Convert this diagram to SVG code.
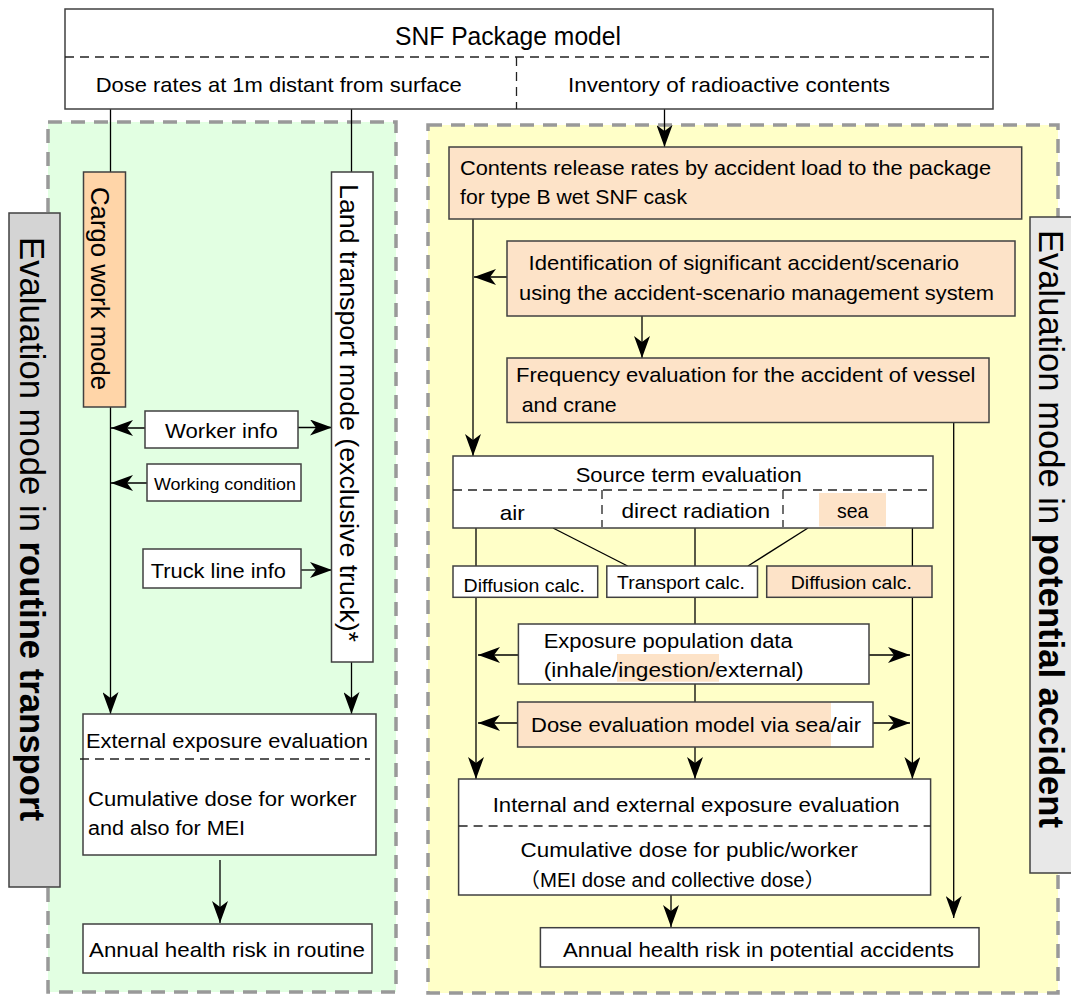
<svg xmlns="http://www.w3.org/2000/svg" width="1071" height="996" viewBox="0 0 1071 996">
<defs>
<marker id="ah" viewBox="0 0 22 16" refX="22" refY="8" markerWidth="22" markerHeight="16" markerUnits="userSpaceOnUse" orient="auto">
<path d="M0,0 L22,8 L0,16 L6,8 Z" fill="#000"/>
</marker>
</defs>
<style>
.box{stroke:#404040;stroke-width:1.5}
.w{fill:#fff}
.pe{fill:#fde3c8}
.or{fill:#ffd5a8}
.dash{stroke:#222;stroke-width:1.3;stroke-dasharray:9 6;fill:none}
.ct{fill:none;stroke-width:3.5;stroke:#999;stroke-dasharray:14 9}
.ln{stroke:#000;stroke-width:1.3;fill:none}
.ar{stroke:#000;stroke-width:1.3;fill:none;marker-end:url(#ah)}
text{font-family:"Liberation Sans","Noto Sans CJK JP",sans-serif;fill:#000}
.t21{font-size:21px}
.t20{font-size:20px}
.t18{font-size:18px}
.t17{font-size:17px}
</style>

<!-- containers -->
<g id="routine-container">
<rect x="48" y="122" width="348" height="870" fill="#e2ffe2"/>
<rect x="48" y="122" width="348" height="870" class="ct"/>
</g>
<g id="accident-container">
<rect x="428" y="125" width="630" height="868" fill="#ffffc8"/>
<rect x="428" y="125" width="630" height="868" class="ct"/>
</g>

<g id="routine-label">
<rect x="9" y="213" width="51" height="674" fill="#d4d4d4" class="box"/>
<text font-size="35" transform="translate(20,237) rotate(90)" textLength="584" lengthAdjust="spacingAndGlyphs">Evaluation mode in <tspan font-weight="bold">routine transport</tspan></text>
</g>
<g id="accident-label">
<rect x="1030" y="217" width="46" height="656" fill="#e8e8e8" class="box"/>
<text font-size="35" transform="translate(1039,230) rotate(90)" textLength="598" lengthAdjust="spacingAndGlyphs">Evaluation mode in <tspan font-weight="bold">potential accident</tspan></text>
</g>

<!-- connectors -->
<g id="connectors">
<line class="ln" x1="110.5" y1="109" x2="110.5" y2="172"/>
<line class="ln" x1="351.5" y1="109" x2="351.5" y2="172"/>
<line class="ar" x1="110.5" y1="407" x2="110.5" y2="714"/>
<line class="ar" x1="351.5" y1="662" x2="351.5" y2="714"/>
<line class="ar" x1="145" y1="428" x2="111" y2="428"/>
<line class="ar" x1="298" y1="427.5" x2="332" y2="427.5"/>
<line class="ar" x1="147" y1="483" x2="111" y2="483"/>
<line class="ar" x1="301" y1="570" x2="332" y2="570"/>
<line class="ar" x1="220" y1="860" x2="220" y2="923"/>
<line class="ar" x1="664.5" y1="109" x2="664.5" y2="147"/>
<line class="ar" x1="473" y1="219" x2="473" y2="456"/>
<line class="ar" x1="507" y1="277" x2="474" y2="277"/>
<line class="ar" x1="642" y1="316" x2="642" y2="358"/>
<line class="ar" x1="953.7" y1="422" x2="953.7" y2="918"/>
<line class="ln" x1="476" y1="528" x2="476" y2="566"/>
<line class="ar" x1="476" y1="597" x2="476" y2="779"/>
<line class="ln" x1="553" y1="528" x2="627.6" y2="566"/>
<line class="ln" x1="695" y1="528" x2="695" y2="566"/>
<line class="ln" x1="808" y1="528" x2="748" y2="566"/>
<line class="ln" x1="912.4" y1="528" x2="912.4" y2="566"/>
<line class="ar" x1="912.4" y1="597" x2="912.4" y2="779"/>
<line class="ln" x1="695" y1="597" x2="695" y2="624"/>
<line class="ar" x1="518.4" y1="655" x2="478" y2="655"/>
<line class="ar" x1="869" y1="655" x2="910" y2="655"/>
<line class="ln" x1="695" y1="684" x2="695" y2="702"/>
<line class="ar" x1="517.6" y1="723" x2="478" y2="723"/>
<line class="ar" x1="873" y1="723" x2="910" y2="723"/>
<line class="ar" x1="695" y1="747" x2="695" y2="779"/>
<line class="ar" x1="671" y1="895" x2="671" y2="927"/>
</g>

<!-- nodes -->
<g id="package-model">
<rect x="65" y="9" width="928" height="100" class="box w"/>
<line class="dash" x1="65" y1="57" x2="993" y2="57"/>
<line class="dash" x1="516.5" y1="57" x2="516.5" y2="109"/>
<text x="395" y="45" font-size="25" textLength="226" lengthAdjust="spacingAndGlyphs">SNF Package model</text>
<text class="t21" x="95.7" y="92" textLength="366" lengthAdjust="spacingAndGlyphs">Dose rates at 1m distant from surface</text>
<text class="t21" x="568" y="92" textLength="322" lengthAdjust="spacingAndGlyphs">Inventory of radioactive contents</text>
</g>

<g id="cargo-work-mode">
<rect x="83.5" y="172" width="42" height="235" class="box or"/>
<text font-size="26" transform="translate(91,187) rotate(90)" textLength="203" lengthAdjust="spacingAndGlyphs">Cargo work mode</text>
</g>
<g id="land-transport-mode">
<rect x="331.5" y="172" width="41.5" height="490" class="box w"/>
<text font-size="26" transform="translate(339.5,184) rotate(90)" textLength="458" lengthAdjust="spacingAndGlyphs">Land transport mode (exclusive truck)*</text>
</g>
<g id="worker-info">
<rect x="145" y="411" width="153" height="37" class="box w"/>
<text class="t20" x="165" y="438" textLength="112.7" lengthAdjust="spacingAndGlyphs">Worker info</text>
</g>
<g id="working-condition">
<rect x="147" y="464" width="154" height="37" class="box w"/>
<text class="t17" x="154" y="490" textLength="142" lengthAdjust="spacingAndGlyphs">Working condition</text>
</g>
<g id="truck-line-info">
<rect x="143" y="549" width="158" height="39" class="box w"/>
<text class="t20" x="150.7" y="578" textLength="135.3" lengthAdjust="spacingAndGlyphs">Truck line info</text>
</g>
<g id="external-exposure">
<rect x="83" y="714" width="293" height="141" class="box w"/>
<line class="dash" x1="80" y1="759" x2="370" y2="759"/>
<text class="t20" x="86" y="748" textLength="282" lengthAdjust="spacingAndGlyphs">External exposure evaluation</text>
<text class="t20" x="88" y="806" textLength="268.7" lengthAdjust="spacingAndGlyphs">Cumulative dose for worker</text>
<text class="t20" x="88" y="835" textLength="157" lengthAdjust="spacingAndGlyphs">and also for MEI</text>
</g>
<g id="annual-routine">
<rect x="83" y="924" width="289" height="49" class="box w"/>
<text class="t21" x="89" y="957" textLength="276" lengthAdjust="spacingAndGlyphs">Annual health risk in routine</text>
</g>

<g id="contents-release">
<rect x="449" y="147" width="572.7" height="72" class="box pe"/>
<text class="t21" x="460" y="175" textLength="531" lengthAdjust="spacingAndGlyphs">Contents release rates by accident load to the package</text>
<text class="t21" x="460" y="204" textLength="227" lengthAdjust="spacingAndGlyphs">for type B wet SNF cask</text>
</g>
<g id="identification">
<rect x="507" y="241" width="508" height="75" class="box pe"/>
<text class="t21" x="528.6" y="270" textLength="430.5" lengthAdjust="spacingAndGlyphs">Identification of significant accident/scenario</text>
<text class="t21" x="519" y="300" textLength="475" lengthAdjust="spacingAndGlyphs">using the accident-scenario management system</text>
</g>
<g id="frequency">
<rect x="507" y="358" width="482" height="64.5" class="box pe"/>
<text class="t21" x="516" y="382" textLength="459.5" lengthAdjust="spacingAndGlyphs">Frequency evaluation for the accident of vessel</text>
<text class="t21" x="521.7" y="412" textLength="95" lengthAdjust="spacingAndGlyphs">and crane</text>
</g>
<g id="source-term">
<rect x="453" y="456" width="480" height="72" class="box w"/>
<rect x="819" y="493" width="67" height="33.5" class="pe"/>
<line class="dash" x1="453" y1="490" x2="933" y2="490"/>
<line class="dash" x1="602" y1="490" x2="602" y2="527"/>
<line class="dash" x1="783" y1="490" x2="783" y2="527"/>
<text class="t21" x="575.7" y="482" textLength="226" lengthAdjust="spacingAndGlyphs">Source term evaluation</text>
<text class="t21" x="499.7" y="520" textLength="25" lengthAdjust="spacingAndGlyphs">air</text>
<text class="t21" x="621.4" y="518" textLength="148.6" lengthAdjust="spacingAndGlyphs">direct radiation</text>
<text class="t21" x="837" y="518" textLength="31.4" lengthAdjust="spacingAndGlyphs">sea</text>
</g>
<g id="diffusion-air">
<rect x="453" y="566" width="144.7" height="31.3" class="box w"/>
<text class="t18" x="463.6" y="592" textLength="121.4" lengthAdjust="spacingAndGlyphs">Diffusion calc.</text>
</g>
<g id="transport-calc">
<rect x="606.8" y="566" width="150.7" height="31.3" class="box w"/>
<text class="t18" x="617" y="589" textLength="128" lengthAdjust="spacingAndGlyphs">Transport calc.</text>
</g>
<g id="diffusion-sea">
<rect x="766.7" y="566" width="165.3" height="31.3" class="box pe"/>
<text class="t18" x="790.7" y="589" textLength="121.3" lengthAdjust="spacingAndGlyphs">Diffusion calc.</text>
</g>
<g id="exposure-population">
<rect x="518.4" y="624" width="350.6" height="60" class="box w"/>
<rect x="617" y="654" width="102" height="27.7" class="pe"/>
<text class="t20" x="543.7" y="648" textLength="249" lengthAdjust="spacingAndGlyphs">Exposure population data</text>
<text class="t20" x="543.7" y="677" textLength="260" lengthAdjust="spacingAndGlyphs">(inhale/ingestion/external)</text>
</g>
<g id="dose-evaluation">
<rect x="517.6" y="702" width="355.4" height="45" class="w"/>
<rect x="517.6" y="702" width="313.4" height="45" class="pe"/>
<rect x="517.6" y="702" width="355.4" height="45" class="box" fill="none"/>
<text class="t20" x="531" y="732" textLength="330" lengthAdjust="spacingAndGlyphs">Dose evaluation model via sea/air</text>
</g>
<g id="internal-external">
<rect x="458.6" y="779" width="472" height="116" class="box w"/>
<line class="dash" x1="458.6" y1="826" x2="930.6" y2="826"/>
<text class="t20" x="492.7" y="812" textLength="407" lengthAdjust="spacingAndGlyphs">Internal and external exposure evaluation</text>
<text class="t20" x="520.5" y="857" textLength="337.5" lengthAdjust="spacingAndGlyphs">Cumulative dose for public/worker</text>
<text class="t20" x="519.6" y="887" textLength="305.4" lengthAdjust="spacingAndGlyphs">（MEI dose and collective dose）</text>
</g>
<g id="annual-potential">
<rect x="540.4" y="927.7" width="438.6" height="39.3" class="box w"/>
<text class="t21" x="563" y="957" textLength="391" lengthAdjust="spacingAndGlyphs">Annual health risk in potential accidents</text>
</g>
</svg>
